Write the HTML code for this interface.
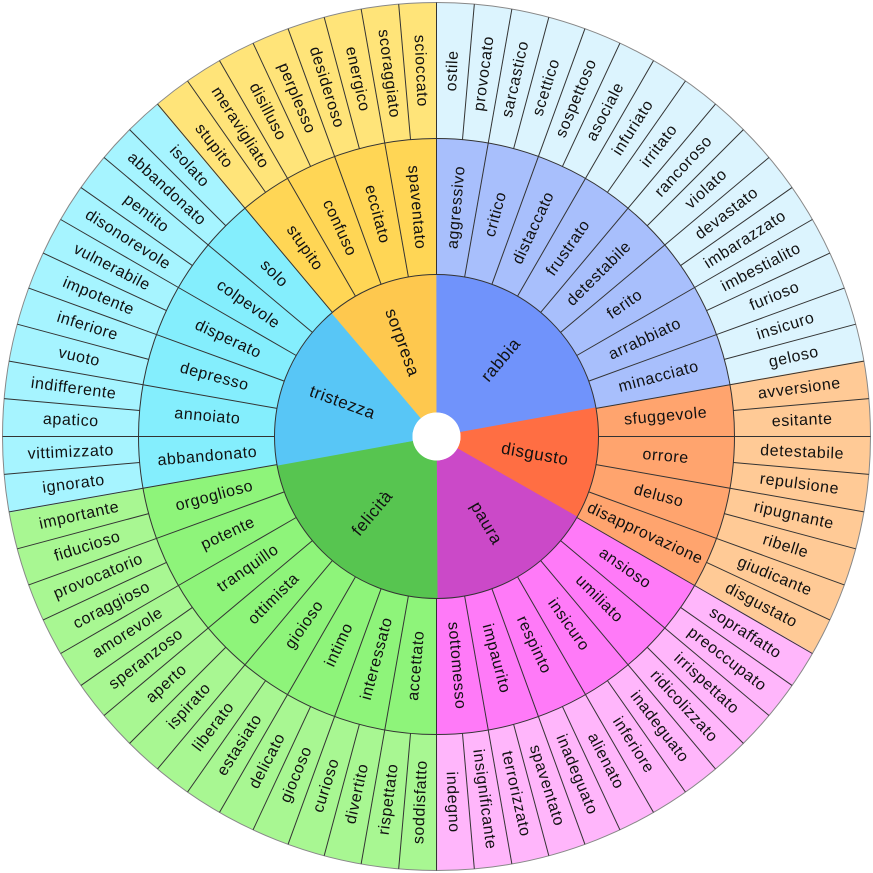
<!DOCTYPE html>
<html><head><meta charset="utf-8"><style>
html,body{margin:0;padding:0;background:#fff;width:873px;height:873px;overflow:hidden}
svg{display:block}
text{font-family:"Liberation Sans","DejaVu Sans",sans-serif;font-size:16px;fill:#111;text-anchor:middle;dominant-baseline:central;letter-spacing:0.6px}
.c text{font-size:17px}
</style></head><body>
<svg width="873" height="873" viewBox="0 0 873 873" xmlns="http://www.w3.org/2000/svg">
<defs>
<line id="lo" x1="0" y1="-298" x2="0" y2="-434" stroke="#333" stroke-width="1"/>
<line id="lm" x1="0" y1="-162" x2="0" y2="-298" stroke="#333" stroke-width="1"/>
</defs>
<g transform="translate(436.5,436.5)">
<g fill="none">
<circle r="366" stroke="#dcf4fe" stroke-width="136" pathLength="360" stroke-dasharray="80 280" transform="rotate(-90)"/>
<circle r="366" stroke="#ffca96" stroke-width="136" pathLength="360" stroke-dasharray="40 320" transform="rotate(-10)"/>
<circle r="366" stroke="#ffb6fb" stroke-width="136" pathLength="360" stroke-dasharray="60 300" transform="rotate(30)"/>
<circle r="366" stroke="#a8f792" stroke-width="136" pathLength="360" stroke-dasharray="80 280" transform="rotate(90)"/>
<circle r="366" stroke="#a6f4ff" stroke-width="136" pathLength="360" stroke-dasharray="60 300" transform="rotate(170)"/>
<circle r="366" stroke="#ffe479" stroke-width="136" pathLength="360" stroke-dasharray="40 320" transform="rotate(230)"/>
<circle r="230" stroke="#a8bffc" stroke-width="136" pathLength="360" stroke-dasharray="80 280" transform="rotate(-90)"/>
<circle r="230" stroke="#ffa46e" stroke-width="136" pathLength="360" stroke-dasharray="40 320" transform="rotate(-10)"/>
<circle r="230" stroke="#ff7af8" stroke-width="136" pathLength="360" stroke-dasharray="60 300" transform="rotate(30)"/>
<circle r="230" stroke="#8ef47a" stroke-width="136" pathLength="360" stroke-dasharray="80 280" transform="rotate(90)"/>
<circle r="230" stroke="#84eefd" stroke-width="136" pathLength="360" stroke-dasharray="60 300" transform="rotate(170)"/>
<circle r="230" stroke="#ffd655" stroke-width="136" pathLength="360" stroke-dasharray="40 320" transform="rotate(230)"/>
<circle r="93" stroke="#7093fb" stroke-width="138" pathLength="360" stroke-dasharray="80 280" transform="rotate(-90)"/>
<circle r="93" stroke="#ff6e43" stroke-width="138" pathLength="360" stroke-dasharray="40 320" transform="rotate(-10)"/>
<circle r="93" stroke="#cb49c8" stroke-width="138" pathLength="360" stroke-dasharray="60 300" transform="rotate(30)"/>
<circle r="93" stroke="#57c550" stroke-width="138" pathLength="360" stroke-dasharray="80 280" transform="rotate(90)"/>
<circle r="93" stroke="#58c6f6" stroke-width="138" pathLength="360" stroke-dasharray="60 300" transform="rotate(170)"/>
<circle r="93" stroke="#fec84e" stroke-width="138" pathLength="360" stroke-dasharray="40 320" transform="rotate(230)"/>
</g>
<circle r="24" fill="#fff"/>
<circle r="162" fill="none" stroke="#333" stroke-width="1"/>
<circle r="298" fill="none" stroke="#333" stroke-width="1"/>
<circle r="434" fill="none" stroke="#888" stroke-width="1"/>
<use href="#lo" transform="rotate(0)"/><use href="#lo" transform="rotate(5)"/><use href="#lo" transform="rotate(10)"/><use href="#lo" transform="rotate(15)"/><use href="#lo" transform="rotate(20)"/><use href="#lo" transform="rotate(25)"/><use href="#lo" transform="rotate(30)"/><use href="#lo" transform="rotate(35)"/><use href="#lo" transform="rotate(40)"/><use href="#lo" transform="rotate(45)"/><use href="#lo" transform="rotate(50)"/><use href="#lo" transform="rotate(55)"/><use href="#lo" transform="rotate(60)"/><use href="#lo" transform="rotate(65)"/><use href="#lo" transform="rotate(70)"/><use href="#lo" transform="rotate(75)"/><use href="#lo" transform="rotate(80)"/><use href="#lo" transform="rotate(85)"/><use href="#lo" transform="rotate(90)"/><use href="#lo" transform="rotate(95)"/><use href="#lo" transform="rotate(100)"/><use href="#lo" transform="rotate(105)"/><use href="#lo" transform="rotate(110)"/><use href="#lo" transform="rotate(115)"/><use href="#lo" transform="rotate(120)"/><use href="#lo" transform="rotate(125)"/><use href="#lo" transform="rotate(130)"/><use href="#lo" transform="rotate(135)"/><use href="#lo" transform="rotate(140)"/><use href="#lo" transform="rotate(145)"/><use href="#lo" transform="rotate(150)"/><use href="#lo" transform="rotate(155)"/><use href="#lo" transform="rotate(160)"/><use href="#lo" transform="rotate(165)"/><use href="#lo" transform="rotate(170)"/><use href="#lo" transform="rotate(175)"/><use href="#lo" transform="rotate(180)"/><use href="#lo" transform="rotate(185)"/><use href="#lo" transform="rotate(190)"/><use href="#lo" transform="rotate(195)"/><use href="#lo" transform="rotate(200)"/><use href="#lo" transform="rotate(205)"/><use href="#lo" transform="rotate(210)"/><use href="#lo" transform="rotate(215)"/><use href="#lo" transform="rotate(220)"/><use href="#lo" transform="rotate(225)"/><use href="#lo" transform="rotate(230)"/><use href="#lo" transform="rotate(235)"/><use href="#lo" transform="rotate(240)"/><use href="#lo" transform="rotate(245)"/><use href="#lo" transform="rotate(250)"/><use href="#lo" transform="rotate(255)"/><use href="#lo" transform="rotate(260)"/><use href="#lo" transform="rotate(265)"/><use href="#lo" transform="rotate(270)"/><use href="#lo" transform="rotate(275)"/><use href="#lo" transform="rotate(280)"/><use href="#lo" transform="rotate(285)"/><use href="#lo" transform="rotate(290)"/><use href="#lo" transform="rotate(295)"/><use href="#lo" transform="rotate(300)"/><use href="#lo" transform="rotate(305)"/><use href="#lo" transform="rotate(310)"/><use href="#lo" transform="rotate(315)"/><use href="#lo" transform="rotate(320)"/><use href="#lo" transform="rotate(325)"/><use href="#lo" transform="rotate(330)"/><use href="#lo" transform="rotate(335)"/><use href="#lo" transform="rotate(340)"/><use href="#lo" transform="rotate(345)"/><use href="#lo" transform="rotate(350)"/><use href="#lo" transform="rotate(355)"/>
<use href="#lm" transform="rotate(0)"/><use href="#lm" transform="rotate(10)"/><use href="#lm" transform="rotate(20)"/><use href="#lm" transform="rotate(30)"/><use href="#lm" transform="rotate(40)"/><use href="#lm" transform="rotate(50)"/><use href="#lm" transform="rotate(60)"/><use href="#lm" transform="rotate(70)"/><use href="#lm" transform="rotate(80)"/><use href="#lm" transform="rotate(90)"/><use href="#lm" transform="rotate(100)"/><use href="#lm" transform="rotate(110)"/><use href="#lm" transform="rotate(120)"/><use href="#lm" transform="rotate(130)"/><use href="#lm" transform="rotate(140)"/><use href="#lm" transform="rotate(150)"/><use href="#lm" transform="rotate(160)"/><use href="#lm" transform="rotate(170)"/><use href="#lm" transform="rotate(180)"/><use href="#lm" transform="rotate(190)"/><use href="#lm" transform="rotate(200)"/><use href="#lm" transform="rotate(210)"/><use href="#lm" transform="rotate(220)"/><use href="#lm" transform="rotate(230)"/><use href="#lm" transform="rotate(240)"/><use href="#lm" transform="rotate(250)"/><use href="#lm" transform="rotate(260)"/><use href="#lm" transform="rotate(270)"/><use href="#lm" transform="rotate(280)"/><use href="#lm" transform="rotate(290)"/><use href="#lm" transform="rotate(300)"/><use href="#lm" transform="rotate(310)"/><use href="#lm" transform="rotate(320)"/><use href="#lm" transform="rotate(330)"/><use href="#lm" transform="rotate(340)"/><use href="#lm" transform="rotate(350)"/>

<text transform="rotate(-87.5) translate(366)">ostile</text>
<text transform="rotate(-82.5) translate(366)">provocato</text>
<text transform="rotate(-77.5) translate(366)">sarcastico</text>
<text transform="rotate(-72.5) translate(366)">scettico</text>
<text transform="rotate(-67.5) translate(366)">sospettoso</text>
<text transform="rotate(-62.5) translate(366)">asociale</text>
<text transform="rotate(-57.5) translate(366)">infuriato</text>
<text transform="rotate(-52.5) translate(366)">irritato</text>
<text transform="rotate(-47.5) translate(366)">rancoroso</text>
<text transform="rotate(-42.5) translate(366)">violato</text>
<text transform="rotate(-37.5) translate(366)">devastato</text>
<text transform="rotate(-32.5) translate(366)">imbarazzato</text>
<text transform="rotate(-27.5) translate(366)">imbestialito</text>
<text transform="rotate(-22.5) translate(366)">furioso</text>
<text transform="rotate(-17.5) translate(366)">insicuro</text>
<text transform="rotate(-12.5) translate(366)">geloso</text>
<text transform="rotate(-7.5) translate(366)">avversione</text>
<text transform="rotate(-2.5) translate(366)">esitante</text>
<text transform="rotate(2.5) translate(366)">detestabile</text>
<text transform="rotate(7.5) translate(366)">repulsione</text>
<text transform="rotate(12.5) translate(366)">ripugnante</text>
<text transform="rotate(17.5) translate(366)">ribelle</text>
<text transform="rotate(22.5) translate(366)">giudicante</text>
<text transform="rotate(27.5) translate(366)">disgustato</text>
<text transform="rotate(32.5) translate(366)">sopraffatto</text>
<text transform="rotate(37.5) translate(366)">preoccupato</text>
<text transform="rotate(42.5) translate(366)">irrispettato</text>
<text transform="rotate(47.5) translate(366)">ridicolizzato</text>
<text transform="rotate(52.5) translate(366)">inadeguato</text>
<text transform="rotate(57.5) translate(366)">inferiore</text>
<text transform="rotate(62.5) translate(366)">alienato</text>
<text transform="rotate(67.5) translate(366)">inadeguato</text>
<text transform="rotate(72.5) translate(366)">spaventato</text>
<text transform="rotate(77.5) translate(366)">terrorizzato</text>
<text transform="rotate(82.5) translate(366)">insignificante</text>
<text transform="rotate(87.5) translate(366)">indegno</text>
<text transform="rotate(272.5) translate(-366)">soddisfatto</text>
<text transform="rotate(277.5) translate(-366)">rispettato</text>
<text transform="rotate(282.5) translate(-366)">divertito</text>
<text transform="rotate(287.5) translate(-366)">curioso</text>
<text transform="rotate(292.5) translate(-366)">giocoso</text>
<text transform="rotate(297.5) translate(-366)">delicato</text>
<text transform="rotate(302.5) translate(-366)">estasiato</text>
<text transform="rotate(307.5) translate(-366)">liberato</text>
<text transform="rotate(312.5) translate(-366)">ispirato</text>
<text transform="rotate(317.5) translate(-366)">aperto</text>
<text transform="rotate(322.5) translate(-366)">speranzoso</text>
<text transform="rotate(327.5) translate(-366)">amorevole</text>
<text transform="rotate(332.5) translate(-366)">coraggioso</text>
<text transform="rotate(337.5) translate(-366)">provocatorio</text>
<text transform="rotate(342.5) translate(-366)">fiducioso</text>
<text transform="rotate(347.5) translate(-366)">importante</text>
<text transform="rotate(352.5) translate(-366)">ignorato</text>
<text transform="rotate(357.5) translate(-366)">vittimizzato</text>
<text transform="rotate(362.5) translate(-366)">apatico</text>
<text transform="rotate(367.5) translate(-366)">indifferente</text>
<text transform="rotate(372.5) translate(-366)">vuoto</text>
<text transform="rotate(377.5) translate(-366)">inferiore</text>
<text transform="rotate(382.5) translate(-366)">impotente</text>
<text transform="rotate(387.5) translate(-366)">vulnerabile</text>
<text transform="rotate(392.5) translate(-366)">disonorevole</text>
<text transform="rotate(397.5) translate(-366)">pentito</text>
<text transform="rotate(402.5) translate(-366)">abbandonato</text>
<text transform="rotate(407.5) translate(-366)">isolato</text>
<text transform="rotate(412.5) translate(-366)">stupito</text>
<text transform="rotate(417.5) translate(-366)">meravigliato</text>
<text transform="rotate(422.5) translate(-366)">disilluso</text>
<text transform="rotate(427.5) translate(-366)">perplesso</text>
<text transform="rotate(432.5) translate(-366)">desideroso</text>
<text transform="rotate(437.5) translate(-366)">energico</text>
<text transform="rotate(442.5) translate(-366)">scoraggiato</text>
<text transform="rotate(447.5) translate(-366)">scioccato</text>

<text transform="rotate(-85) translate(230)">aggressivo</text>
<text transform="rotate(-75) translate(230)">critico</text>
<text transform="rotate(-65) translate(230)">distaccato</text>
<text transform="rotate(-55) translate(230)">frustrato</text>
<text transform="rotate(-45) translate(230)">detestabile</text>
<text transform="rotate(-35) translate(230)">ferito</text>
<text transform="rotate(-25) translate(230)">arrabbiato</text>
<text transform="rotate(-15) translate(230)">minacciato</text>
<text transform="rotate(-5) translate(230)">sfuggevole</text>
<text transform="rotate(5) translate(230)">orrore</text>
<text transform="rotate(15) translate(230)">deluso</text>
<text transform="rotate(25) translate(230)">disapprovazione</text>
<text transform="rotate(35) translate(230)">ansioso</text>
<text transform="rotate(45) translate(230)">umiliato</text>
<text transform="rotate(55) translate(230)">insicuro</text>
<text transform="rotate(65) translate(230)">respinto</text>
<text transform="rotate(75) translate(230)">impaurito</text>
<text transform="rotate(85) translate(230)">sottomesso</text>
<text transform="rotate(275) translate(-230)">accettato</text>
<text transform="rotate(285) translate(-230)">interessato</text>
<text transform="rotate(295) translate(-230)">intimo</text>
<text transform="rotate(305) translate(-230)">gioioso</text>
<text transform="rotate(315) translate(-230)">ottimista</text>
<text transform="rotate(325) translate(-230)">tranquillo</text>
<text transform="rotate(335) translate(-230)">potente</text>
<text transform="rotate(345) translate(-230)">orgoglioso</text>
<text transform="rotate(355) translate(-230)">abbandonato</text>
<text transform="rotate(365) translate(-230)">annoiato</text>
<text transform="rotate(375) translate(-230)">depresso</text>
<text transform="rotate(385) translate(-230)">disperato</text>
<text transform="rotate(395) translate(-230)">colpevole</text>
<text transform="rotate(405) translate(-230)">solo</text>
<text transform="rotate(415) translate(-230)">stupito</text>
<text transform="rotate(425) translate(-230)">confuso</text>
<text transform="rotate(435) translate(-230)">eccitato</text>
<text transform="rotate(445) translate(-230)">spaventato</text>

<g class="c">
<text transform="rotate(-50) translate(100)">rabbia</text>
<text transform="rotate(10) translate(100)">disgusto</text>
<text transform="rotate(60) translate(100)">paura</text>
<text transform="rotate(310) translate(-100)">felicità</text>
<text transform="rotate(20) translate(-100)">tristezza</text>
<text transform="rotate(70) translate(-100)">sorpresa</text>
</g>
</g>
</svg>
</body></html>
